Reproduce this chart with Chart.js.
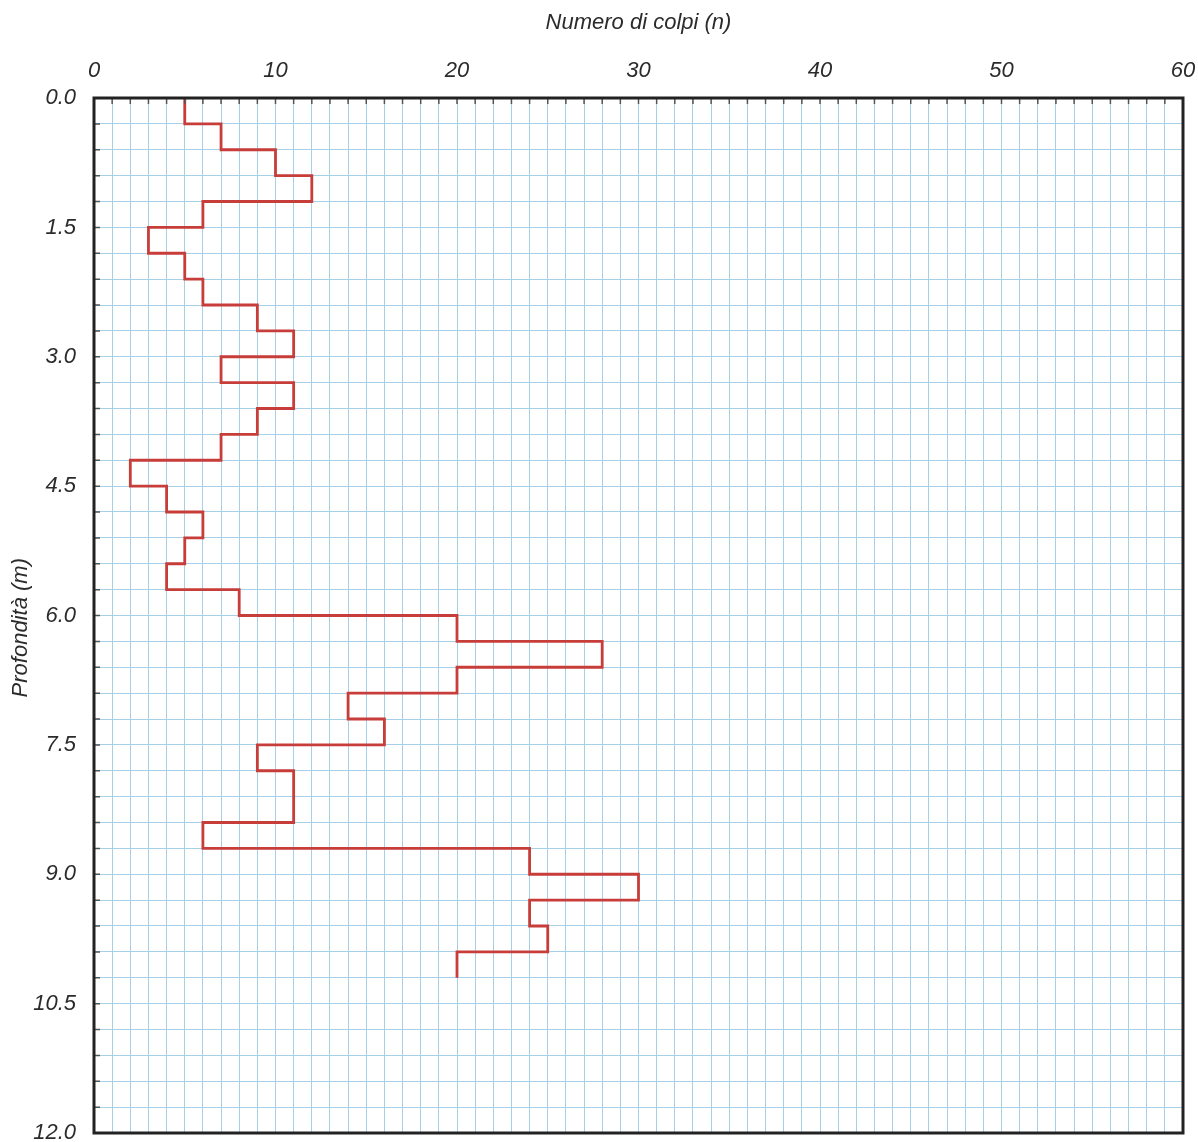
<!DOCTYPE html>
<html>
<head>
<meta charset="utf-8">
<script src="https://cdn.jsdelivr.net/npm/chart.js@4/dist/chart.umd.min.js"></script>
<style>
  body { margin: 0; background: #fff; }
  #wrap { width: 1198px; height: 1142px; position: relative; }
</style>
</head>
<body>
<div id="wrap"><canvas id="myChart"></canvas></div>
<script>
const depthTop = [0.0, 0.3, 0.6, 0.9, 1.2, 1.5, 1.8, 2.1, 2.4, 2.7, 3.0, 3.3, 3.6, 3.9, 4.2, 4.5, 4.8,
    5.1, 5.4, 5.7, 6.0, 6.3, 6.6, 6.9, 7.2, 7.5, 7.8, 8.1, 8.4, 8.7, 9.0, 9.3, 9.6, 9.9]
const blows = [5, 7, 10, 12, 6, 3, 5, 6, 9, 11, 7, 11, 9, 7, 2, 4, 6, 5, 4, 8,
    20, 28, 20, 14, 16, 9, 11, 11, 6, 24, 30, 24, 25, 20]
const endDepth = 10.2
const xLabelTicks = [0, 10, 20, 30, 40, 50, 60]
const yLabelTicks = [0, 1.5, 3, 4.5, 6, 7.5, 9, 10.5, 12]

let points = depthTop.map((d, i) => ({ x: blows[i], y: d }))
points.push({ x: blows[blows.length - 1], y: endDepth })

const textColor = '#2b2b2b'
const gridColor = '#a6d0e8'
const font = { family: '"Liberation Sans", Arial, sans-serif', size: 22, style: 'italic' }

function isIn(list, v){
    return list.some(t => Math.abs(t - v) < 1e-6)
}

/* frame + small inward ticks */
const framePlugin = {
    id: 'frame',
    afterDraw(chart){
        const { ctx, chartArea: a, scales } = chart
        ctx.save()
        ctx.strokeStyle = '#555'
        ctx.lineWidth = 1.5
        ctx.beginPath()
        scales.x.ticks.forEach((t, i) => {
            let px = scales.x.getPixelForTick(i)
            ctx.moveTo(px, a.top)
            ctx.lineTo(px, a.top + 6)
        })
        scales.y.ticks.forEach((t, i) => {
            let py = scales.y.getPixelForTick(i)
            ctx.moveTo(a.left, py)
            ctx.lineTo(a.left + 6, py)
        })
        ctx.stroke()
        ctx.strokeStyle = '#222'
        ctx.lineWidth = 3
        ctx.strokeRect(a.left, a.top, a.right - a.left, a.bottom - a.top)
        ctx.restore()
    }
}

const ctx = document.getElementById('myChart').getContext('2d')
const myChart = new Chart(ctx, {
    type: 'line',
    data: {
        datasets: [{
            data: points,
            stepped: 'after',
            borderColor: '#c63d3a',
            borderWidth: 2.8,
            pointRadius: 0,
            fill: false
        }]
    },
    options: {
        responsive: true,
        maintainAspectRatio: false,
        animation: false,
        layout: { padding: { left: 0, top: 0, right: 15, bottom: 9 } },
        plugins: { legend: { display: false }, tooltip: { enabled: false } },
        scales: {
            x: {
                type: 'linear',
                position: 'top',
                min: 0,
                max: 60,
                ticks: {
                    stepSize: 1,
                    autoSkip: false,
                    maxRotation: 0,
                    padding: 14,
                    color: textColor,
                    font: font,
                    callback: v => isIn(xLabelTicks, v) ? String(v) : ''
                },
                grid: { color: gridColor, lineWidth: 1, drawTicks: false },
                border: { display: false },
                title: {
                    display: true,
                    text: 'Numero di colpi (n)',
                    color: textColor,
                    font: font,
                    padding: { top: 10, bottom: 0 }
                },
                afterFit: scale => {
                    scale.height = 98
                    scale.paddingLeft = 0
                    scale.paddingRight = 0
                }
            },
            y: {
                type: 'linear',
                reverse: true,
                min: 0,
                max: 12,
                ticks: {
                    stepSize: 0.3,
                    autoSkip: false,
                    padding: 18,
                    color: textColor,
                    font: font,
                    callback: v => isIn(yLabelTicks, v) ? Number(v).toFixed(1) : ''
                },
                grid: { color: gridColor, lineWidth: 1, drawTicks: false },
                border: { display: false },
                title: {
                    display: true,
                    text: 'Profondità (m)    ',
                    color: textColor,
                    font: font,
                    padding: { top: 8, bottom: 0 }
                },
                afterFit: scale => {
                    scale.width = 94
                    scale.paddingTop = 0
                    scale.paddingBottom = 0
                }
            }
        }
    },
    plugins: [framePlugin]
})
</script>
</body>
</html>
